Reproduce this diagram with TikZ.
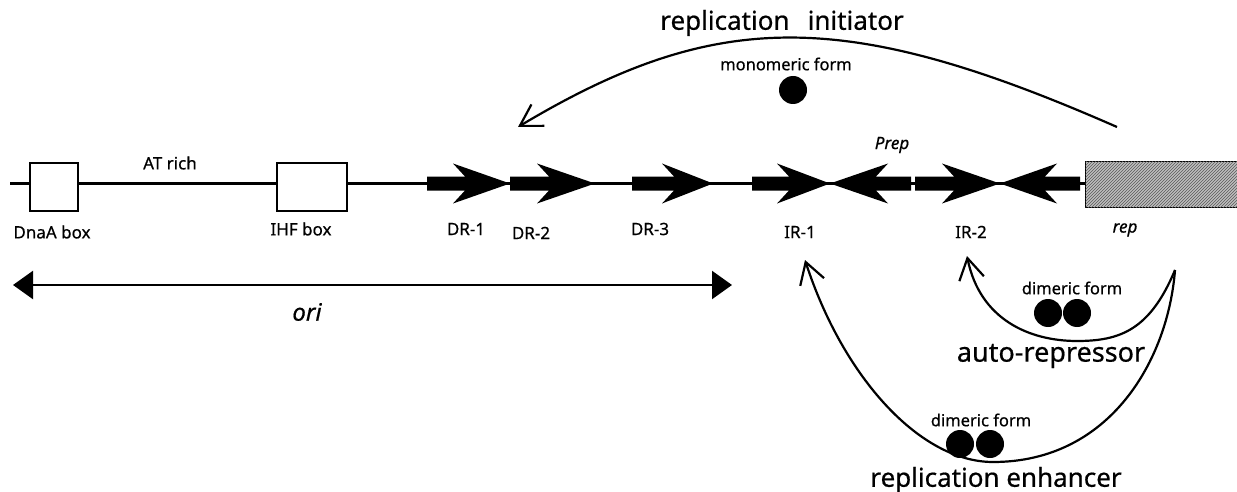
\documentclass[tikz,border=0pt]{standalone}
\usepackage{fontspec}
\setmainfont{Noto Sans}[FakeBold=0.6]
\usetikzlibrary{arrows.meta,patterns}
\newcommand\fwdarr[3]{\fill ({#1},176.5) -- ({#2+12},176.5) -- ({#2},163.5) -- ({#3},183.5) -- ({#2},203.5) -- ({#2+12},190.5) -- ({#1},190.5) -- cycle;}
\newcommand\revarr[3]{\fill ({#1},176.5) -- ({#2-12},176.5) -- ({#2},163.5) -- ({#3},183.5) -- ({#2},203.5) -- ({#2-12},190.5) -- ({#1},190.5) -- cycle;}
\begin{document}
\begin{tikzpicture}[x=1pt,y=-1pt,
  lbl/.style={inner sep=0pt, font=\fontsize{17}{20}\selectfont},
  big/.style={inner sep=0pt, font=\fontsize{26}{30}\selectfont},
  form/.style={inner sep=0pt, font=\fontsize{16.5}{19}\selectfont},
  dnabox/.style={draw, line width=2pt, fill=white, inner sep=0pt},
  curve/.style={line width=2.2pt, -{Straight Barb[length=21pt,width=25pt,line width=2.2pt]}},
  ball/.style={circle, fill=black, minimum size=28pt, inner sep=0pt},
  ori/.style={line width=2.2pt, {Triangle[length=20pt,width=28pt]}-{Triangle[length=20pt,width=28pt]}}
]
\useasboundingbox (0,0) rectangle (1237,492);

% rep gene box
\node (repbox) [draw, line width=1.4pt, fill=gray!50,
  postaction={pattern=north east lines, pattern color=black!65},
  minimum width=152pt, minimum height=46pt, anchor=north west, inner sep=0pt] at (1085,161) {};

% DNA line
\coordinate (lineL) at (10,183.5);
\draw[line width=2.2pt] (lineL) -- (lineL -| repbox.west);

% boxes
\node (dnaa) [dnabox, minimum width=48pt, minimum height=48pt] at (54,187) {};
\node (ihf) [dnabox, minimum width=70pt, minimum height=48pt] at (312,187) {};

% repeats
\fwdarr{427}{453}{510}
\fwdarr{510}{537}{595}
\fwdarr{632}{662}{713}
\fwdarr{752}{777}{830}
\revarr{911}{888}{830}
\fwdarr{915}{942}{1000}
\revarr{1080}{1057}{1000}

% labels
\node (lDnaA) [lbl] at (52,232) {DnaA box};
\node (lAT) [lbl] at (170,163) {AT rich};
\node (lIHF) [lbl] at (301,229) {IHF box};
\node (lDR1) [lbl] at (466,229) {DR-1};
\node (lDR2) [lbl] at (531,233) {DR-2};
\node (lDR3) [lbl] at (650,229) {DR-3};
\node (lIR1) [lbl] at (800,232) {IR-1};
\node (lIR2) [lbl] at (971,232) {IR-2};
\node (lrep) [lbl] at (1125,230) {\itshape rep};
\node (lPrep) [lbl] at (892,145) {\itshape Prep};

% ori
\coordinate (oriL) at (13,285);
\coordinate (oriR) at (732,285);
\draw[ori] (oriL) -- (oriR);
\node (lori) [inner sep=0pt, font=\fontsize{24}{28}\selectfont\itshape] at (307,312) {ori};

% replication initiator
\node (tInit) [big] at (782,23) {replication\hspace{0.7em}initiator};
\node (tMono) [form] at (786,64) {monomeric form};
\node (mono) [ball] at (793,90) {};
\coordinate (repTop) at (1117,127);
\coordinate (drTarget) at (518,127);
\draw[curve] (repTop) .. controls (846,8) and (717,8) .. (drTarget);

% auto-repressor
\coordinate (repBot) at (1175,270);
\coordinate (ir2Target) at (967,256);
\coordinate (arBottom) at (1077,341);
\draw[curve] (repBot) .. controls (1150,330) and (1120,341) .. (arBottom)
  .. controls (1030,341) and (980,320) .. (ir2Target);
\node (tDim1) [form] at (1072,288) {dimeric form};
\node (d1a) [ball] at (1048,313) {};
\node (d1b) [ball] at (1077,313) {};
\node (tAuto) [big, font=\fontsize{27}{30}\selectfont] at (1051,356) {auto-repressor};

% replication enhancer
\coordinate (ir1Target) at (805,260);
\coordinate (enBottom) at (993,462);
\draw[curve] (repBot) .. controls (1168,360) and (1110,462) .. (enBottom)
  .. controls (920,462) and (843,377) .. (ir1Target);
\node (tDim2) [form] at (981,420) {dimeric form};
\node (d2a) [ball] at (960,444) {};
\node (d2b) [ball] at (990,444) {};
\node (tEnh) [big] at (996,480) {replication enhancer};
\end{tikzpicture}
\end{document}
